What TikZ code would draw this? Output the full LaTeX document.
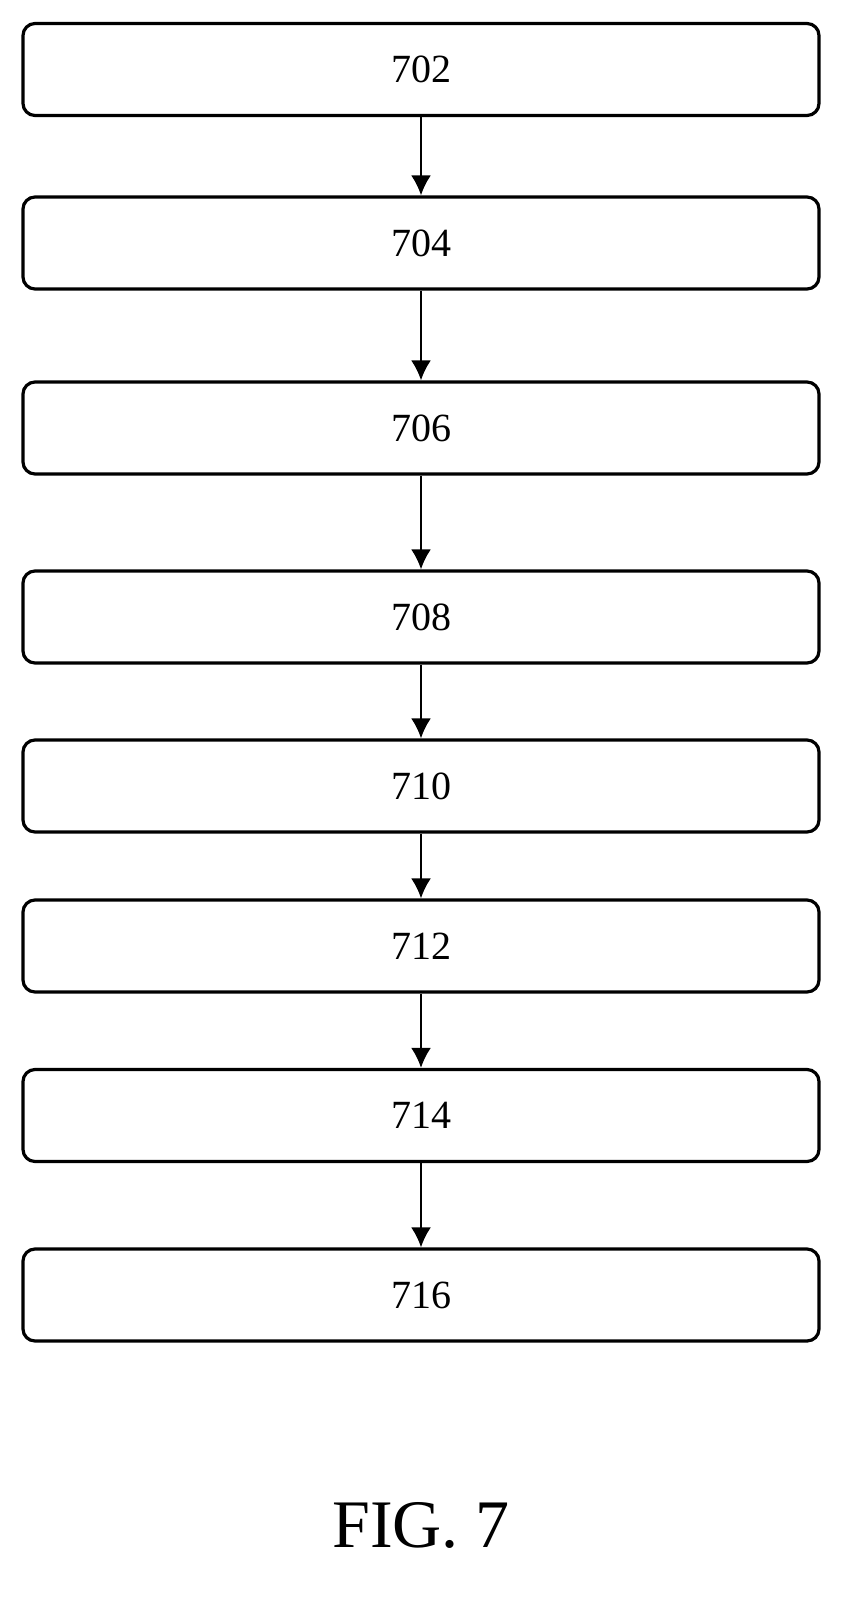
\documentclass[tikz,border=0pt]{standalone}
\usepackage{fontspec}
\setmainfont{Liberation Serif}
\usepackage{tikz}
\usetikzlibrary{arrows.meta}

\begin{document}
\begin{tikzpicture}[x=0.5pt,y=-0.5pt,
	stepbox/.style={draw=black,line width=1.6pt,rounded corners=6pt,minimum width=398pt,minimum height=46pt,inner sep=0pt,font=\fontsize{20}{24}\selectfont},
	flow/.style={line width=1.2pt,-{Latex[length=10pt,width=10pt]}}]
	\useasboundingbox (0,0) rectangle (859,1600);
	\foreach \lab/\yc[count=\a] in {702/69.5,704/243,706/428,708/617,710/786,712/946,714/1115.5,716/1295}
	{\node[stepbox] (s\a) at (421,\yc) {\lab};}
	\foreach \a[count=\b from 2] in {1,...,7}
	{\draw[flow] (s\a)--(s\b);}
	\node[font=\fontsize{34}{40}\selectfont] (fig) at (421,1525) {FIG. 7};
\end{tikzpicture}
\end{document}
